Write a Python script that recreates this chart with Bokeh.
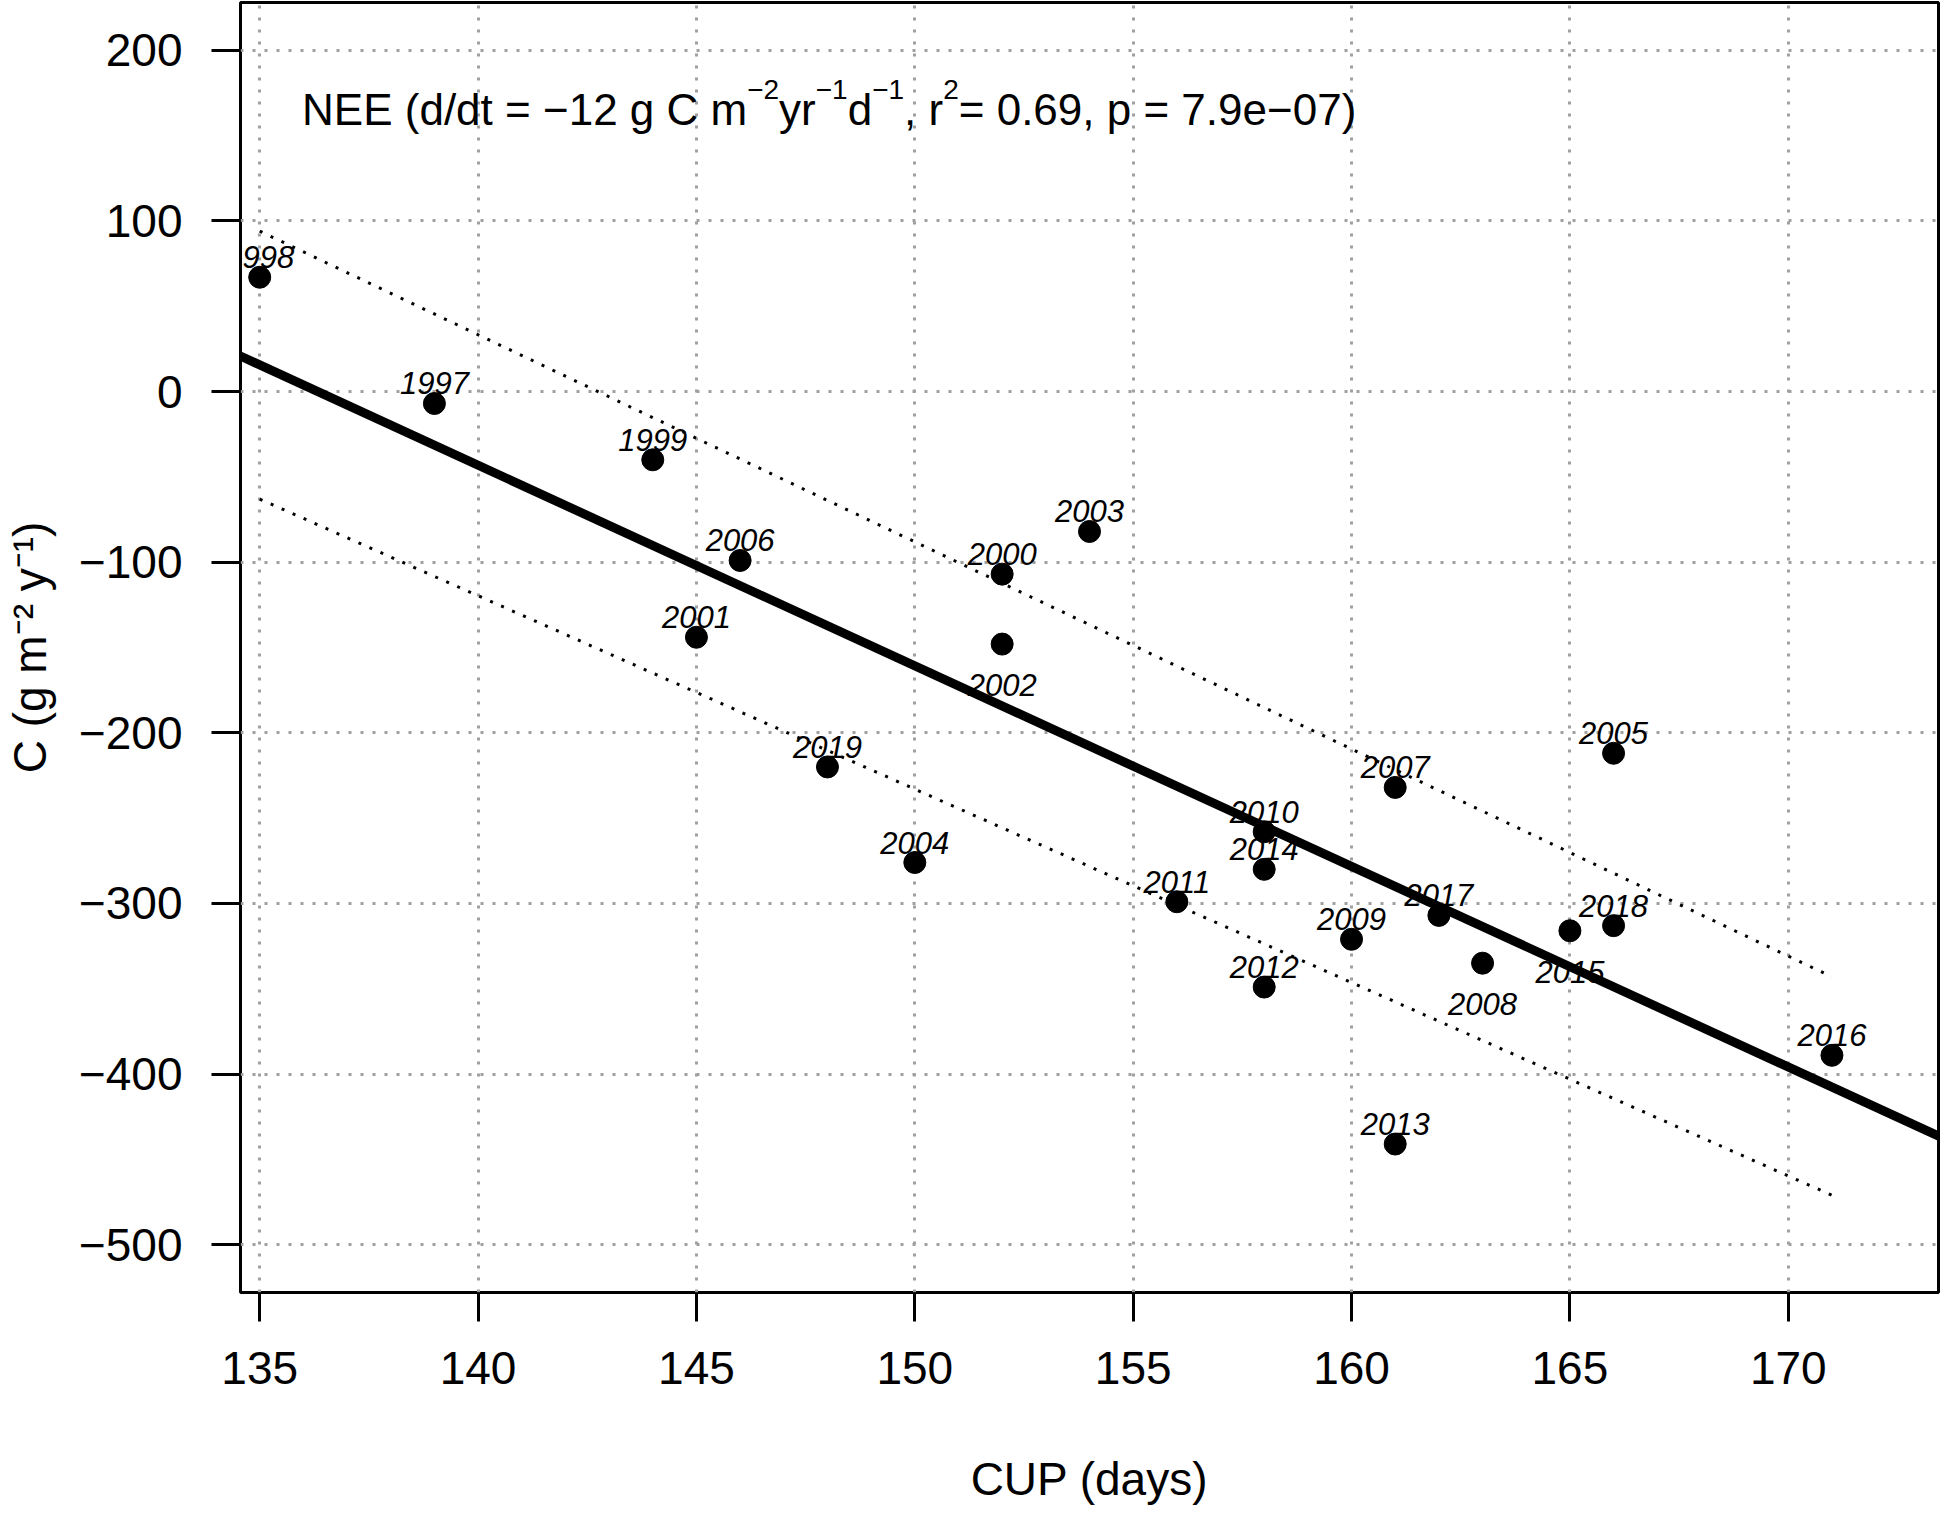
import numpy as np
from bokeh.plotting import figure
from bokeh.models import Range1d, FixedTicker, Slope, ColumnDataSource
from bokeh.core.properties import value
from bokeh.embed import file_html
from bokeh.resources import INLINE

# ---- data ----
years = [1997, 1998, 1999, 2000, 2001, 2002, 2003, 2004, 2005, 2006, 2007, 2008,
         2009, 2010, 2011, 2012, 2013, 2014, 2015, 2016, 2017, 2018, 2019]
cup_days = [139, 135, 144, 152, 145, 152, 154, 150, 166, 146, 161, 163,
            160, 158, 156, 158, 161, 158, 165, 171, 162, 166, 148]
nee = [-7, 67, -40, -107, -144, -148, -82, -276, -212, -99, -232, -335,
       -321, -258, -299, -349, -441, -280, -316, -389, -307, -313, -220]
label_side = ["above", "above", "above", "above", "above", "below", "above", "above",
              "above", "above", "above", "below", "above", "above", "above", "above",
              "above", "above", "below", "above", "above", "above", "above"]

band_x = [135, 171]
band_upper = [94, -343]
band_lower = [-63, -471]

x_ticks = [135, 140, 145, 150, 155, 160, 165, 170]
y_ticks = [-500, -400, -300, -200, -100, 0, 100, 200]

# annotation pieces: (text, is_superscript)
annotation_parts = [
    ("NEE (d/dt = \u221212 g C m", False), ("\u22122", True), ("yr", False),
    ("\u22121", True), ("d", False), ("\u22121", True), (", r", False),
    ("2", True), (" = 0.69, p = 7.9e\u221207)", False),
]
x_title = "CUP (days)"
y_title = "C (g m\u207b\u00b2 y\u207b\u00b9)"

FONT = "Liberation Sans"
MAIN_PX = 44
SUP_PX = 28
SUP_RISE = 20
# Liberation Sans (Arial-compatible) advance widths, per 1000 em
ADV = {' ': 278, '(': 333, ')': 333, ',': 278, '.': 278, '/': 278, '=': 584,
       '\u2212': 584, 'C': 722, 'E': 667, 'N': 722, 'd': 556, 'e': 556, 'g': 556,
       'm': 833, 'p': 556, 'r': 333, 't': 278, 'y': 500}
for ch in "0123456789":
    ADV[ch] = 556


def text_width(s, px):
    return sum(ADV.get(c, 556) for c in s) * px / 1000.0


# ---- figure ----
p = figure(width=1940, height=1511,
           x_range=Range1d(134.56, 173.44), y_range=Range1d(-528, 228),
           output_backend="svg", toolbar_location=None,
           min_border_left=231, min_border_right=2,
           min_border_top=2, min_border_bottom=219)
p.background_fill_color = "white"
p.border_fill_color = "white"
p.outline_line_color = "black"
p.outline_line_width = 3

p.xaxis.ticker = FixedTicker(ticks=x_ticks)
p.yaxis.ticker = FixedTicker(ticks=y_ticks)
p.xaxis.major_label_overrides = {t: str(t).replace("-", "\u2212") for t in x_ticks}
p.yaxis.major_label_overrides = {t: str(t).replace("-", "\u2212") for t in y_ticks}

for ax in (p.xaxis[0], p.yaxis[0]):
    ax.axis_line_color = None
    ax.major_tick_in = 0
    ax.major_tick_out = 29
    ax.major_tick_line_width = 3
    ax.major_tick_line_color = "black"
    ax.minor_tick_line_color = None
    ax.major_label_text_font = FONT
    ax.major_label_text_font_size = "46px"
    ax.major_label_text_color = "black"
    ax.axis_label_text_font = FONT
    ax.axis_label_text_font_size = "46px"
    ax.axis_label_text_font_style = "normal"
    ax.axis_label_text_color = "black"

p.xaxis.major_label_standoff = 30
p.yaxis.major_label_standoff = 29
p.xaxis.axis_label = x_title
p.yaxis.axis_label = y_title
p.xaxis.axis_label_standoff = 66
p.yaxis.axis_label_standoff = 20

for g in (p.xgrid[0], p.ygrid[0]):
    g.grid_line_color = "#a0a0a0"
    g.grid_line_dash = "3 9"
    g.grid_line_width = 3
p.xgrid.ticker = FixedTicker(ticks=x_ticks)
p.ygrid.ticker = FixedTicker(ticks=y_ticks)

# ---- regression (computed from the data) ----
slope, intercept = np.polyfit(np.array(cup_days, float), np.array(nee, float), 1)
p.add_layout(Slope(gradient=slope, y_intercept=intercept,
                   line_color="black", line_width=9))

# dotted band lines
p.line(band_x, band_upper, line_color="black", line_width=3, line_dash="3 9")
p.line(band_x, band_lower, line_color="black", line_width=3, line_dash="3 9")

# points
p.scatter(cup_days, nee, size=22, color="black")

above = ColumnDataSource(dict(
    x=[c for c, s in zip(cup_days, label_side) if s == "above"],
    y=[v for v, s in zip(nee, label_side) if s == "above"],
    t=[str(y) for y, s in zip(years, label_side) if s == "above"]))
below = ColumnDataSource(dict(
    x=[c for c, s in zip(cup_days, label_side) if s == "below"],
    y=[v for v, s in zip(nee, label_side) if s == "below"],
    t=[str(y) for y, s in zip(years, label_side) if s == "below"]))

p.text("x", "y", text="t", source=above, text_font=value(FONT), text_font_size="31px",
       text_font_style="italic", text_align="center", text_baseline="alphabetic",
       y_offset=-20, text_color="black")
p.text("x", "y", text="t", source=below, text_font=value(FONT), text_font_size="31px",
       text_font_style="italic", text_align="center", text_baseline="alphabetic",
       y_offset=41, text_color="black")

# ---- annotation with real superscripts ----
ann_x, ann_y = 135.97, 165.3
pieces, xoffs, yoffs, sizes = [], [], [], []
cursor = 0.0
for txt, sup in annotation_parts:
    px = SUP_PX if sup else MAIN_PX
    pieces.append(txt)
    xoffs.append(cursor)
    yoffs.append(-SUP_RISE if sup else 0)
    sizes.append(f"{px}px")
    cursor += text_width(txt, px)
ann = ColumnDataSource(dict(x=[ann_x] * len(pieces), y=[ann_y] * len(pieces),
                            t=pieces, xo=xoffs, yo=yoffs, fs=sizes))
p.text("x", "y", text="t", source=ann, x_offset="xo", y_offset="yo",
       text_font_size="fs", text_font=value(FONT), text_align="left",
       text_baseline="alphabetic", text_color="black")

open("out.html", "w").write(file_html(p, INLINE))
